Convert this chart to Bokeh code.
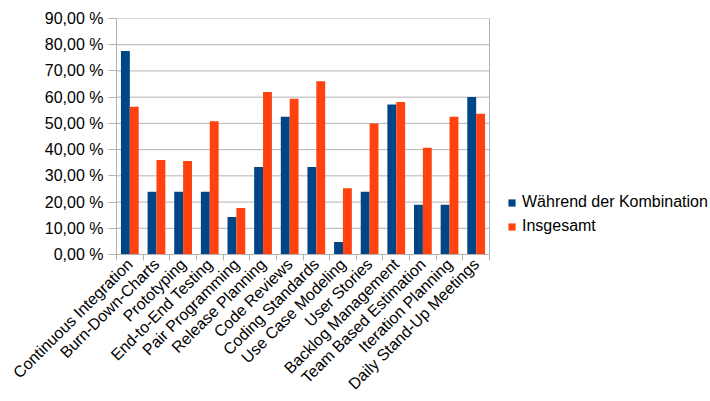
from bokeh.plotting import figure
from bokeh.models import (Range1d, FixedTicker, Legend, LegendItem, ColumnDataSource)
from bokeh.embed import file_html
from bokeh.resources import INLINE
import math

categories = [
    "Continuous Integration", "Burn-Down-Charts", "Prototyping",
    "End-to-End Testing", "Pair Programming", "Release Planning",
    "Code Reviews", "Coding Standards", "Use Case Modeling", "User Stories",
    "Backlog Management", "Team Based Estimation", "Iteration Planning",
    "Daily Stand-Up Meetings",
]
waehrend = [77.6, 23.9, 23.9, 23.9, 14.3, 33.4, 52.5, 33.4, 4.8, 23.9, 57.2, 19.0, 19.0, 60.1]
insgesamt = [56.3, 36.0, 35.7, 50.8, 17.7, 62.0, 59.4, 66.1, 25.3, 50.0, 58.2, 40.7, 52.5, 53.7]
y_ticks = [0, 10, 20, 30, 40, 50, 60, 70, 80, 90]
series_names = ["Während der Kombination", "Insgesamt"]

BLUE = "#004586"
ORANGE = "#ff420e"
GRID = "#b3b3b3"
FONT = "Liberation Sans"
FS = "16px"

n = len(categories)
centers = [i + 0.5 for i in range(n)]
bar_w = 1 / 3

# the frame runs to the right edge so the legend can sit beside the bars;
# the plotting area itself spans 373 of the 594 frame pixels
PLOT_W, FRAME_W = 373, 594
x_end = n * FRAME_W / PLOT_W

src = ColumnDataSource(dict(
    xb=[c - bar_w / 2 for c in centers],
    xo=[c + bar_w / 2 for c in centers],
    w=waehrend,
    g=insgesamt,
))

p = figure(width=710, height=401, output_backend="svg", toolbar_location=None,
           x_range=Range1d(0, x_end), y_range=Range1d(0, 90),
           min_border_left=116, min_border_right=0,
           min_border_top=18, min_border_bottom=147)
p.outline_line_color = None
p.background_fill_color = "white"
p.border_fill_color = "white"
p.xgrid.grid_line_color = None
p.ygrid.grid_line_color = None

# horizontal grid lines and right border of the plotting area
p.segment(x0=[0] * len(y_ticks), x1=[n] * len(y_ticks), y0=y_ticks, y1=y_ticks,
          line_color=GRID, line_width=1)
p.segment(x0=[n], x1=[n], y0=[y_ticks[0]], y1=[y_ticks[-1]], line_color=GRID, line_width=1)

rb = p.vbar(x="xb", top="w", width=bar_w, source=src, fill_color=BLUE, line_color=None)
ro = p.vbar(x="xo", top="g", width=bar_w, source=src, fill_color=ORANGE, line_color=None)

# y axis: percentages with comma decimals
p.yaxis.ticker = FixedTicker(ticks=y_ticks)
p.yaxis.major_label_overrides = {v: f"{v},00 %" for v in y_ticks}
p.yaxis.major_tick_in = 0
p.yaxis.major_tick_out = 8
p.yaxis.minor_tick_line_color = None
p.yaxis.axis_line_color = GRID
p.yaxis.major_tick_line_color = GRID
p.yaxis.major_label_text_font = FONT
p.yaxis.major_label_text_font_size = FS
p.yaxis.major_label_text_color = "#000000"
p.yaxis.major_label_standoff = 5

# x axis: labels at category centres, tick marks between categories
p.xaxis.bounds = (0, n)
p.xaxis.ticker = FixedTicker(ticks=centers, minor_ticks=list(range(n + 1)))
p.xaxis.major_label_overrides = {c: name for c, name in zip(centers, categories)}
p.xaxis.major_label_orientation = math.pi / 4
p.xaxis.major_tick_line_color = None
p.xaxis.major_tick_in = 0
p.xaxis.major_tick_out = 0
p.xaxis.minor_tick_in = 0
p.xaxis.minor_tick_out = 6
p.xaxis.minor_tick_line_color = GRID
p.xaxis.axis_line_color = GRID
p.xaxis.major_label_text_font = FONT
p.xaxis.major_label_text_font_size = FS
p.xaxis.major_label_text_color = "#000000"
p.xaxis.major_label_standoff = 1

legend = Legend(items=[LegendItem(label=series_names[0], renderers=[rb]),
                       LegendItem(label=series_names[1], renderers=[ro])],
                location=(PLOT_W + 18, 18), glyph_width=9, glyph_height=9,
                padding=0, margin=0, spacing=4, label_standoff=6,
                label_text_font=FONT, label_text_font_size=FS,
                label_text_color="#000000", label_height=20,
                border_line_color=None, background_fill_alpha=0)
p.add_layout(legend)

open("out.html", "w").write(file_html(p, INLINE))
